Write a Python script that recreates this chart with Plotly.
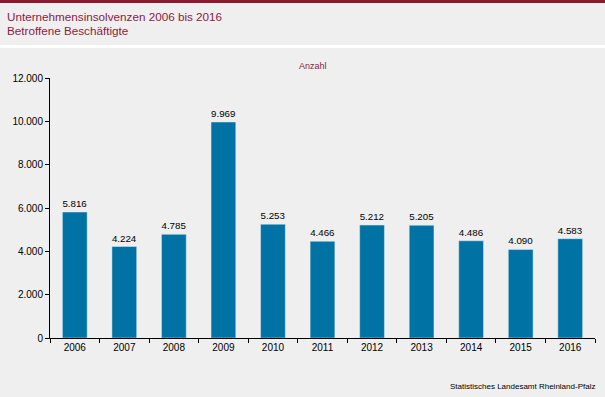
import plotly.graph_objects as go

years = ["2006", "2007", "2008", "2009", "2010", "2011", "2012", "2013", "2014", "2015", "2016"]
employees = [5816, 4224, 4785, 9969, 5253, 4466, 5212, 5205, 4486, 4090, 4583]
y_ticks = [0, 2000, 4000, 6000, 8000, 10000, 12000]

W, H = 605, 397
L, R, T, B = 50, 10, 78, 59
pw, ph = W - L - R, H - T - B

def px(x):
    return (x - L) / pw

def py(y):
    return (H - B - y) / ph

bg = "#eeefee"
dark_red = "#8b1a30"
title_col = "#8c1a45"
bar_col = "#0072a3"

fig = go.Figure(go.Bar(
    x=years, y=employees, marker_color=bar_col, width=0.5,
    text=employees, texttemplate="%{y:,d}", textposition="outside",
    textfont=dict(size=10, color="#000000"), cliponaxis=False,
))

fig.update_layout(
    width=W, height=H, margin=dict(l=L, r=R, t=T, b=B),
    paper_bgcolor=bg, plot_bgcolor=bg, separators=",.",
    font=dict(family="Liberation Sans, Arial, sans-serif", size=10, color="#000000"),
    showlegend=False,
    xaxis=dict(showline=True, linecolor="#000000", linewidth=1, ticks="outside",
               tickson="boundaries", ticklen=4, tickcolor="#000000", showgrid=False,
               tickfont=dict(size=10)),
    yaxis=dict(range=[0, 12000], tickvals=y_ticks, tickformat=",d", showline=True,
               linecolor="#000000", linewidth=1, ticks="outside", ticklen=4,
               tickcolor="#000000", showgrid=False, zeroline=False,
               tickfont=dict(size=10)),
    shapes=[
        dict(type="rect", xref="paper", yref="paper", x0=px(0), x1=px(W), y0=py(3), y1=py(0),
             fillcolor=dark_red, line_width=0, layer="above"),
        dict(type="rect", xref="paper", yref="paper", x0=px(0), x1=px(W), y0=py(48), y1=py(45),
             fillcolor="#ffffff", line_width=0, layer="above"),
    ],
    annotations=[
        dict(text="Unternehmensinsolvenzen 2006 bis 2016",
             xref="paper", yref="paper", x=px(5), y=py(17), xanchor="left", yanchor="middle",
             showarrow=False, font=dict(size=11.7, color=title_col)),
        dict(text="Betroffene Beschäftigte",
             xref="paper", yref="paper", x=px(5), y=py(31), xanchor="left", yanchor="middle",
             showarrow=False, font=dict(size=11.7, color=title_col)),
        dict(text="Anzahl", xref="paper", yref="paper", x=px(313), y=py(66),
             xanchor="center", yanchor="middle", showarrow=False,
             font=dict(size=9, color=title_col)),
        dict(text="Statistisches Landesamt Rheinland-Pfalz", xref="paper", yref="paper",
             x=px(597), y=py(386), xanchor="right", yanchor="middle", showarrow=False,
             font=dict(size=8, color="#000000")),
    ],
)

fig.write_html("out.html", config={"displayModeBar": False},
               post_script="document.body.style.margin='0';document.body.style.background='%s';" % bg)
